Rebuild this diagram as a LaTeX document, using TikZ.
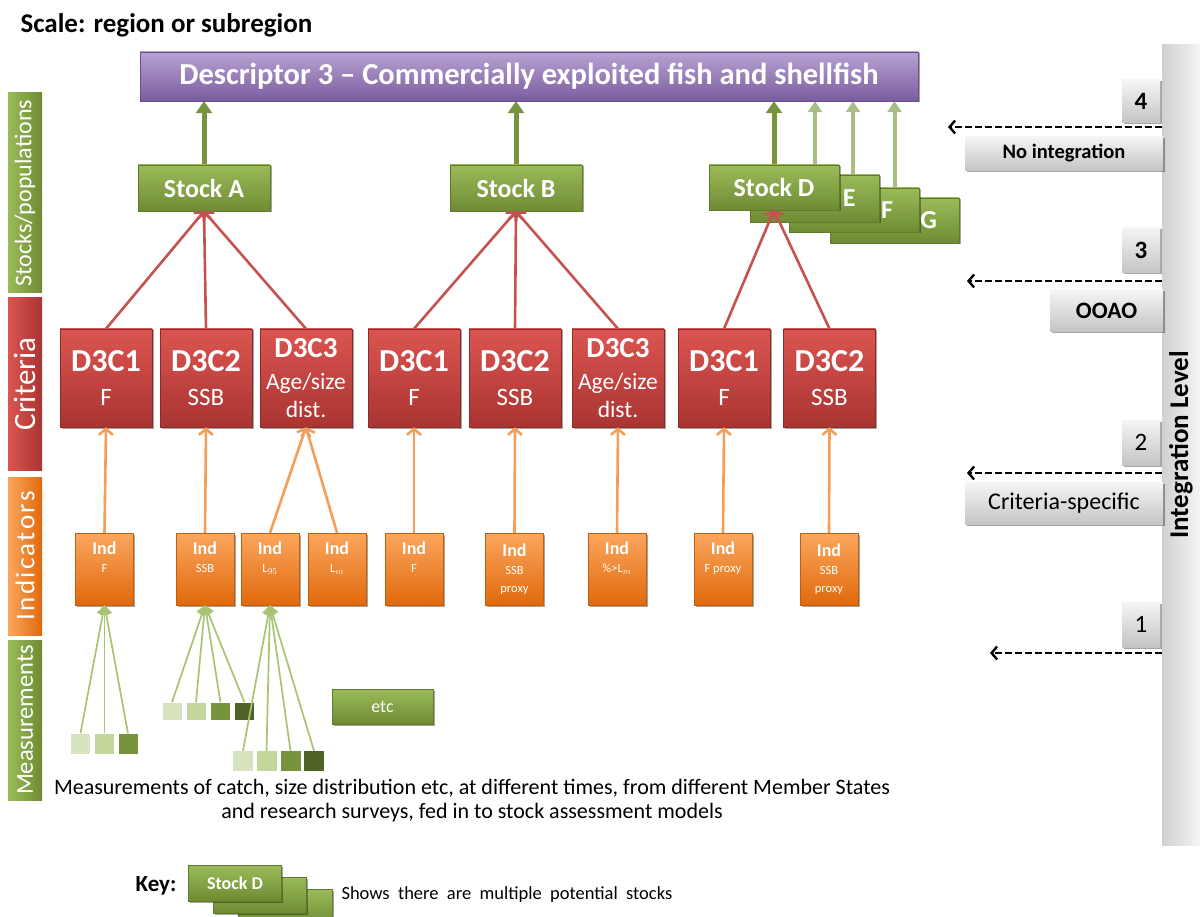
\documentclass[tikz,border=0pt]{standalone}
\usepackage{fontspec}
\setmainfont{Carlito}
\usetikzlibrary{arrows.meta,shadows,backgrounds}
\definecolor{purT}{HTML}{B7A3D3}
\definecolor{purB}{HTML}{7A5C9E}
\definecolor{purD}{HTML}{6A4F8C}
\definecolor{stkT}{HTML}{9BBB59}
\definecolor{stkB}{HTML}{6E8B33}
\definecolor{stkD}{HTML}{5E7A2A}
\definecolor{redT}{HTML}{DB5551}
\definecolor{redB}{HTML}{A93431}
\definecolor{redD}{HTML}{8C2A27}
\definecolor{orT}{HTML}{FBA65E}
\definecolor{orB}{HTML}{E0690C}
\definecolor{orD}{HTML}{C0600C}
\definecolor{grT}{HTML}{F5F5F5}
\definecolor{grB}{HTML}{C4C4C4}
\definecolor{grA}{HTML}{77933C}
\definecolor{grL}{HTML}{A9BE86}
\definecolor{redL}{HTML}{C4524F}
\definecolor{orL}{HTML}{F59E57}
\definecolor{mL}{HTML}{A8C373}
\definecolor{mA}{HTML}{D7E4BD}
\definecolor{mB}{HTML}{C3D69B}
\definecolor{mC}{HTML}{77933C}
\definecolor{mD}{HTML}{4F6228}
\newcommand\fsz[2]{\fontsize{#1}{#2}\selectfont}
\begin{document}
\begin{tikzpicture}[x=1pt,y=-1pt,
  shbox/.style={rectangle, inner sep=0pt, drop shadow={shadow xshift=1.5pt, shadow yshift=-1.5pt, opacity=0.35, fill=black}},
  descbox/.style={shbox, top color=purT, bottom color=purB, draw=purD, text=white, font=\bfseries\fsz{30.5}{32}, minimum width=778, minimum height=49},
  stock/.style={shbox, top color=stkT, bottom color=stkB, draw=stkD, line width=0.6pt, text=white, font=\bfseries\fsz{26}{28}, minimum width=132, minimum height=46},
  stockr/.style={stock, text width=#1, align=right},
  crit/.style={shbox, top color=redT, bottom color=redB, draw=redD, text=white, minimum width=92, minimum height=98, align=center},
  ind/.style={shbox, top color=orT, bottom color=orB, draw=orD, text=white, minimum width=58, minimum height=72, align=center, font=\bfseries\fsz{18}{18}},
  msq/.style={rectangle, inner sep=0pt, minimum width=19, minimum height=19},
  side/.style={rectangle, inner sep=0pt, minimum width=34, text=white},
  gbox/.style={shbox, top color=grT, bottom color=grB, text=black},
  garrow/.style={line width=5pt, draw=grA, -{Triangle[length=12pt,width=16pt]}},
  larrow/.style={line width=4pt, draw=grL, -{Triangle[length=11pt,width=14pt]}},
  redline/.style={line width=2.6pt, draw=redL, -{Straight Barb[length=6pt,width=14pt]}},
  orline/.style={line width=2.6pt, draw=orL, -{Straight Barb[length=6pt,width=14pt]}},
  mline/.style={line width=1.7pt, draw=mL, -{Triangle[length=9pt,width=12pt]}},
  dasharr/.style={line width=2.4pt, draw=black, dash pattern=on 7pt off 3pt, -{Straight Barb[length=5.5pt,width=13pt]}}
]
\useasboundingbox (0,0) rectangle (1200,917);

% title
\node[anchor=west, font=\bfseries\fsz{27}{30}] (title) at (17,25) {Scale: region or subregion};

% descriptor
\node[descbox] (desc) at (529,76.5) {Descriptor 3 – Commercially exploited fish and shellfish};

% side labels
\node[side, minimum height=200, left color=stkT, right color=stkB] (sStock) at (25,193) {\rotatebox{90}{\fsz{24}{26}Stocks/populations}};
\node[side, minimum height=172, left color=redT, right color=redB] (sCrit) at (25,384) {\rotatebox{90}{\fsz{31}{33}Criteria}};
\node[side, minimum height=158, left color=orT, right color=orB] (sInd) at (25,556) {\rotatebox{90}{\fsz{27}{29}\addfontfeatures{LetterSpace=9}Indicators}};
\node[side, minimum height=160, left color=stkT, right color=stkB] (sMeas) at (25,720) {\rotatebox{90}{\fsz{24.5}{26}Measurements}};

% integration bar
\node[rectangle, inner sep=0pt, minimum width=38, minimum height=800, left color=grB!80, right color=grT] (bar) at (1181,445) {\rotatebox{90}{\bfseries\fsz{27}{29}Integration Level}};

% number and label boxes
\node[gbox, minimum width=38, minimum height=43, font=\bfseries\fsz{25}{27}] (n4) at (1141,101.5) {4};
\node[gbox, minimum width=38, minimum height=45, font=\bfseries\fsz{25}{27}] (n3) at (1141,250) {3};
\node[gbox, minimum width=38, minimum height=45, font=\fsz{25}{27}] (n2) at (1141,442.5) {2};
\node[gbox, minimum width=38, minimum height=45, font=\fsz{25}{27}] (n1) at (1141,624.5) {1};
\node[gbox, minimum width=198, minimum height=34, font=\bfseries\fsz{20.5}{22}] (l4) at (1064,153.5) {No integration};
\node[gbox, minimum width=113, minimum height=42, font=\bfseries\fsz{23.5}{25}] (l3) at (1106.5,311) {OOAO};
\node[gbox, minimum width=198, minimum height=42, font=\fsz{24}{26}] (l2) at (1064,503.5) {Criteria-specific};

\coordinate (a4) at (948,127);
\coordinate (a3) at (967,281);
\coordinate (a2) at (967,473);
\coordinate (a1) at (990,653);
\draw[dasharr] (bar.west |- a4) -- (a4);
\draw[dasharr] (bar.west |- a3) -- (a3);
\draw[dasharr] (bar.west |- a2) -- (a2);
\draw[dasharr] (bar.west |- a1) -- (a1);

% stocks
\node[stockr=129pt, minimum width=129, minimum height=45] (G) at (894.5,220.5) {G\rule{22pt}{0pt}};
\node[stockr=130pt, minimum width=130, minimum height=44] (F) at (854,210) {F\rule{26pt}{0pt}};
\node[stockr=129pt, minimum width=129, minimum height=47] (E) at (815,198.5) {E\rule{24pt}{0pt}};
\node[stock, minimum width=130, minimum height=45] (D) at (774,187.5) {Stock D};
\node[stock] (A) at (204,188) {Stock A};
\node[stock] (B) at (516,188) {Stock B};
\coordinate (eT) at (E.north);
\coordinate (fT) at ([xshift=-1pt]F.north);
\coordinate (gT) at (G.north);

% criteria
\newcommand\crA[2]{{\bfseries\fsz{32}{34}#1}\\[5pt]#2}
\newcommand\crB{{\bfseries\fsz{29}{31}D3C3}\\[4pt]Age/size\\dist.}
\node[crit, font=\fsz{25}{29}] (c1) at (106,378) {\crA{D3C1}{F}};
\node[crit, font=\fsz{25}{29}] (c2) at (206,378) {\crA{D3C2}{SSB}};
\node[crit, font=\fsz{23.5}{28}] (c3) at (306,378) {\crB};
\node[crit, font=\fsz{25}{29}] (c4) at (414,378) {\crA{D3C1}{F}};
\node[crit, font=\fsz{25}{29}] (c5) at (515,378) {\crA{D3C2}{SSB}};
\node[crit, font=\fsz{23.5}{28}] (c6) at (618,378) {\crB};
\node[crit, font=\fsz{25}{29}] (c7) at (724,378) {\crA{D3C1}{F}};
\node[crit, font=\fsz{25}{29}] (c8) at (829.5,378) {\crA{D3C2}{SSB}};

% indicators
\newcommand\sub[1]{{\mdseries\fsz{12.5}{18}#1}}
\node[ind] (i1) at (104.5,569) {Ind\\\sub{F}\\\sub{\strut}};
\node[ind] (i2) at (205,569) {Ind\\\sub{SSB}\\\sub{\strut}};
\node[ind] (i3) at (270,569) {Ind\\\sub{L$_{95}$}\\\sub{\strut}};
\node[ind] (i4) at (337,569) {Ind\\\sub{L$_{m}$}\\\sub{\strut}};
\node[ind] (i5) at (414,569) {Ind\\\sub{F}\\\sub{\strut}};
\node[ind] (i6) at (514.5,569) {Ind\\\sub{SSB}\\\sub{proxy}};
\node[ind] (i7) at (617,569) {Ind\\\sub{\%>L$_{m}$}\\\sub{\strut}};
\node[ind] (i8) at (723,569) {Ind\\\sub{F proxy}\\\sub{\strut}};
\node[ind] (i9) at (829,569) {Ind\\\sub{SSB}\\\sub{proxy}};

% measurements
\node[msq, fill=mA, minimum height=20] (m11) at (80.5,743.5) {};
\node[msq, fill=mB, minimum height=20] (m12) at (104.5,743.5) {};
\node[msq, fill=mC, minimum height=20] (m13) at (128,743.5) {};
\node[msq, fill=mA, minimum height=17] (m21) at (172,711) {};
\node[msq, fill=mB, minimum height=17] (m22) at (196,711) {};
\node[msq, fill=mC, minimum height=17] (m23) at (220.5,711) {};
\node[msq, fill=mD, minimum height=17] (m24) at (244.5,711) {};
\node[msq, fill=mA, minimum width=20, minimum height=20] (m31) at (243,761) {};
\node[msq, fill=mB, minimum width=20, minimum height=20] (m32) at (266.5,761) {};
\node[msq, fill=mC, minimum width=20, minimum height=20] (m33) at (290.5,761) {};
\node[msq, fill=mD, minimum width=20, minimum height=20] (m34) at (314,761) {};

\node[shbox, top color=stkT, bottom color=stkB, draw=stkD, text=white, minimum width=101, minimum height=35, font=\fsz{18}{20}] (etc) at (382.5,706.5) {etc};

% caption
\node[align=center, font=\fsz{22}{24}] (cap) at (472,801) {Measurements of catch, size distribution etc, at different times, from different Member States\\and research surveys, fed in to stock assessment models};

% key
\node[font=\bfseries\fsz{23}{25}] (key) at (156,886) {Key:};
\node[stock, minimum width=94, minimum height=36] (k3) at (285,907) {};
\node[stock, minimum width=93, minimum height=36] (k2) at (260,895) {};
\node[stock, minimum width=93, minimum height=36, font=\bfseries\fsz{18}{20}] (k1) at (235,883) {Stock D};
\node[anchor=west, font=\fsz{18.5}{20}] (keytxt) at (338,895) {Shows\ \ there\ \ are\ \ multiple\ \ potential\ \ stocks};

% connectors
\begin{scope}[on background layer]
\draw[garrow] (A.north) -- (desc.south -| A.north);
\draw[garrow] (B.north) -- (desc.south -| B.north);
\draw[garrow] (D.north) -- (desc.south -| D.north);
\draw[larrow] (eT) -- (desc.south -| eT);
\draw[larrow] (fT) -- (desc.south -| fT);
\draw[larrow] (gT) -- (desc.south -| gT);
\end{scope}

\draw[redline] (c1.north) -- (A.south);
\draw[redline] (c2.north) -- (A.south);
\draw[redline] (c3.north) -- (A.south);
\draw[redline] (c4.north) -- (B.south);
\draw[redline] (c5.north) -- (B.south);
\draw[redline] (c6.north) -- (B.south);
\draw[redline] (c7.north) -- (D.south);
\draw[redline] (c8.north) -- (D.south);

\draw[orline] (i1.north) -- (c1.south);
\draw[orline] (i2.north) -- (c2.south);
\draw[orline] (i3.north) -- (c3.south);
\draw[orline] (i4.north) -- (c3.south);
\draw[orline] (i5.north) -- (c4.south);
\draw[orline] (i6.north) -- (c5.south);
\draw[orline] (i7.north) -- (c6.south);
\draw[orline] (i8.north) -- (c7.south);
\draw[orline] (i9.north) -- (c8.south);

\foreach \m in {m11,m12,m13} \draw[mline] (\m.north) -- (i1.south);
\foreach \m in {m21,m22,m23,m24} \draw[mline] (\m.north) -- (i2.south);
\foreach \m in {m31,m32,m33,m34} \draw[mline] (\m.north) -- (i3.south);
\end{tikzpicture}
\end{document}
